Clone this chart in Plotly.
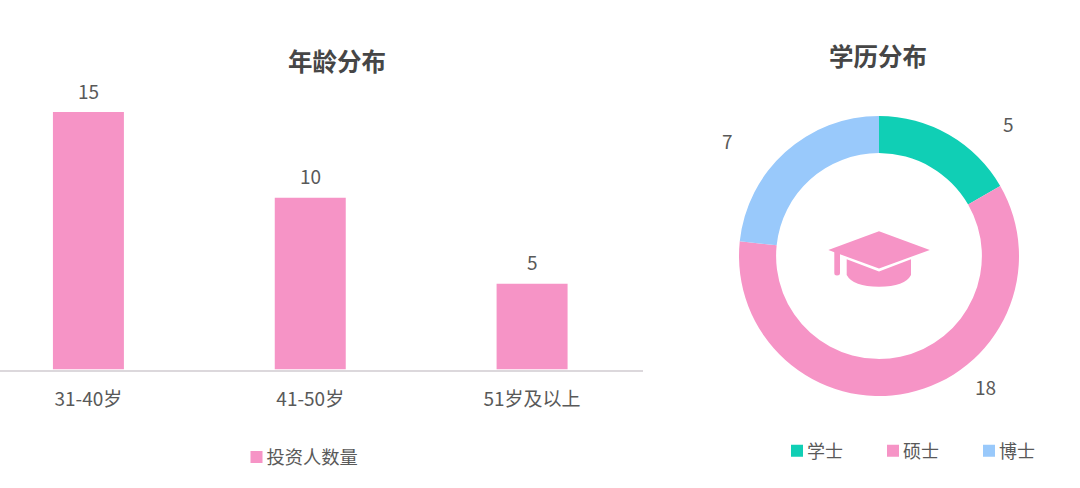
import plotly.graph_objects as go

age_labels = ["31-40岁", "41-50岁", "51岁及以上"]
age_values = [15, 10, 5]
edu_labels = ["学士", "硕士", "博士"]
edu_values = [5, 18, 7]
bar_series = "投资人数量"
title_left = "年龄分布"
title_right = "学历分布"

PINK = "#F694C6"
GREEN = "#10CFB5"
BLUE = "#99C9FB"
TEXT = "#595959"
TITLE = "#464646"
FONT = "Noto Sans CJK SC"
W, H = 1080, 488


def px(x):
    return x / W


def py(y):
    return 1 - y / H


def path(cmds):
    out = []
    for c in cmds:
        if len(c) == 1:
            out.append(c[0])
        else:
            nums = []
            for i in range(1, len(c), 2):
                nums.append(f"{px(c[i]):.5f},{py(c[i + 1]):.5f}")
            out.append(c[0] + " ".join(nums))
    return " ".join(out)


fig = go.Figure()
fig.add_trace(go.Bar(
    x=age_labels, y=age_values, name=bar_series, width=0.32,
    marker=dict(color=PINK, line=dict(width=0)),
    cliponaxis=False, legend="legend", showlegend=True,
))
fig.add_trace(go.Pie(
    labels=edu_labels, values=edu_values, hole=0.735, sort=False,
    direction="clockwise", rotation=0,
    marker=dict(colors=[GREEN, PINK, BLUE], line=dict(width=0)),
    textinfo="none", legend="legend2",
    domain=dict(x=[px(739), px(1019)], y=[py(396), py(116)]),
))

pie_label_pos = [(1008, 124), (985, 386), (727, 140)]
annotations = [
    dict(text=f"<b>{title_right}</b>", x=px(878), y=py(55), xref="paper", yref="paper",
         showarrow=False, font=dict(size=24.5, color=TITLE, family=FONT), xanchor="center", yanchor="middle"),
]
for v, (lx, ly) in zip(edu_values, pie_label_pos):
    annotations.append(dict(text=str(v), x=px(lx), y=py(ly), xref="paper", yref="paper",
                            showarrow=False, font=dict(size=19, color=TEXT, family=FONT),
                            xanchor="center", yanchor="middle"))
for c, v in zip(age_labels, age_values):
    annotations.append(dict(text=str(v), x=c, y=v, xref="x", yref="y", showarrow=False, yshift=22,
                            font=dict(size=19, color=TEXT, family=FONT), xanchor="center", yanchor="middle"))

cap_top = path([("M", 828.3, 250), ("L", 879, 231.3), ("L", 929.8, 250), ("L", 879, 268.5), ("Z",)])
cap_pole = path([("M", 834.3, 250), ("L", 840, 250), ("L", 840, 273), ("Q", 840, 275.5, 837, 275.5),
                 ("Q", 834.3, 275.5, 834.3, 273), ("Z",)])
cap_base = path([("M", 846.7, 259.3), ("L", 879, 271.5), ("L", 911, 259.3), ("L", 911, 275),
                 ("Q", 905, 286.7, 879, 286.7), ("Q", 853, 286.7, 846.7, 275), ("Z",)])
shapes = [dict(type="path", path=p, xref="paper", yref="paper", fillcolor=PINK, line=dict(width=0), layer="above")
          for p in (cap_top, cap_pole, cap_base)]

fig.update_layout(
    width=W, height=H, autosize=False,
    margin=dict(l=0, r=0, t=0, b=0),
    paper_bgcolor="white", plot_bgcolor="white",
    font=dict(family=FONT, size=18, color=TEXT),
    title=dict(text=f"<b>{title_left}</b>", x=px(337), y=py(62), xref="paper", yref="paper",
               xanchor="center", yanchor="middle", font=dict(size=24.5, color=TITLE, family=FONT)),
    xaxis=dict(domain=[0, px(643)], range=[-0.3986, 2.5], type="category", showgrid=False, zeroline=False,
               showline=True, linecolor="#DCD8DC", linewidth=1.5, ticks="outside", ticklen=12,
               tickcolor="rgba(0,0,0,0)", tickfont=dict(size=19, color=TEXT)),
    yaxis=dict(domain=[py(369.5), py(112)], range=[0, 15], visible=False),
    legend=dict(orientation="h", x=px(226.5), y=py(457), xanchor="left", yanchor="middle",
                font=dict(size=18.3, color=TEXT), bgcolor="rgba(0,0,0,0)"),
    legend2=dict(orientation="h", x=px(767), y=py(451), xanchor="left", yanchor="middle",
                 entrywidth=51, entrywidthmode="pixels",
                 font=dict(size=18, color=TEXT), bgcolor="rgba(0,0,0,0)"),
    annotations=annotations, shapes=shapes,
)
post = """
document.body.style.margin = '0';
document.querySelectorAll('.legendsymbols').forEach(function (g) {
  g.setAttribute('transform', 'translate(10,0)');
});
"""
fig.write_html("out.html", config=dict(displayModeBar=False), post_script=post)
